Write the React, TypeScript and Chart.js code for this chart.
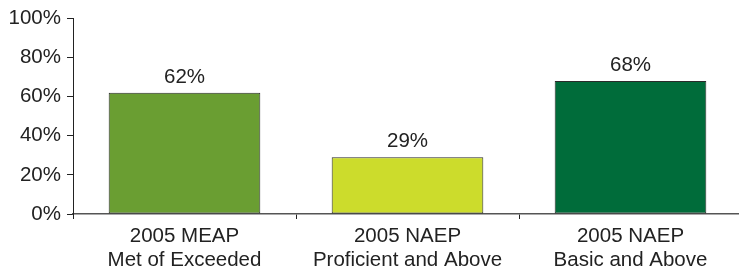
import React, { useEffect, useRef } from "react";
import { Chart, registerables } from "chart.js";

Chart.register(...registerables);

const categories: string[][] = [
  ["2005 MEAP", "Met of Exceeded"],
  ["2005 NAEP", "Proficient and Above"],
  ["2005 NAEP", "Basic and Above"],
];
const values: number[] = [62, 29, 68];
const barColors: string[] = ["#6a9e32", "#ccdc2c", "#006c3a"];
const yTicks: number[] = [0, 20, 40, 60, 80, 100];

const FONT = "'Liberation Sans', Arial, sans-serif";
const FONT_SIZE = 20.5;

const valueLabels = {
  id: "valueLabels",
  afterDatasetsDraw(chart: any) {
    const ctx = chart.ctx;
    const meta = chart.getDatasetMeta(0);
    ctx.save();
    ctx.font = `${FONT_SIZE}px ${FONT}`;
    ctx.fillStyle = "#222";
    ctx.textAlign = "center";
    ctx.textBaseline = "alphabetic";
    meta.data.forEach((el: any, i: number) => {
      ctx.fillText(values[i] + "%", el.x, el.y - 10);
    });
    ctx.restore();
  },
};

export default function App() {
  const ref = useRef<HTMLCanvasElement>(null);
  useEffect(() => {
    if (!ref.current) return;
    const chart = new Chart(ref.current, {
      type: "bar",
      data: {
        labels: categories,
        datasets: [
          {
            data: values,
            backgroundColor: barColors,
            borderColor: "#2a2a2a",
            borderWidth: 1,
            borderSkipped: false,
            categoryPercentage: 0.68,
            barPercentage: 1,
          },
        ],
      },
      options: {
        responsive: false,
        animation: false,
        devicePixelRatio: 1,
        layout: { padding: { top: 16, right: 0, left: 0, bottom: 0 } },
        plugins: { legend: { display: false }, tooltip: { enabled: false } },
        scales: {
          x: {
            grid: {
              display: true,
              drawOnChartArea: false,
              drawTicks: true,
              tickLength: 5,
              color: "#222",
              offset: true,
            },
            border: { display: true, color: "#555", width: 1.5 },
            ticks: {
              color: "#222",
              font: { family: FONT, size: FONT_SIZE, lineHeight: 1.17 },
              padding: 5,
              maxRotation: 0,
              autoSkip: false,
            },
            afterFit(scale: any) {
              scale.height = 59;
            },
          },
          y: {
            min: 0,
            max: 100,
            afterBuildTicks(scale: any) {
              scale.ticks = yTicks.map((v) => ({ value: v }));
            },
            grid: {
              display: true,
              drawOnChartArea: false,
              drawTicks: true,
              tickLength: 6,
              color: "#222",
            },
            border: { display: true, color: "#222", width: 1 },
            ticks: {
              color: "#222",
              font: { family: FONT, size: FONT_SIZE },
              padding: 6,
              callback: (v: any) => v + "%",
            },
            afterFit(scale: any) {
              scale.width = 73;
            },
          },
        },
      },
      plugins: [valueLabels],
    });
    return () => chart.destroy();
  }, []);
  return (
    <div
      style={{
        position: "fixed",
        left: 0,
        top: 0,
        width: 739,
        height: 273,
        overflow: "hidden",
        background: "#fff",
      }}
    >
      <canvas ref={ref} width={742} height={273} style={{ display: "block" }} />
    </div>
  );
}
